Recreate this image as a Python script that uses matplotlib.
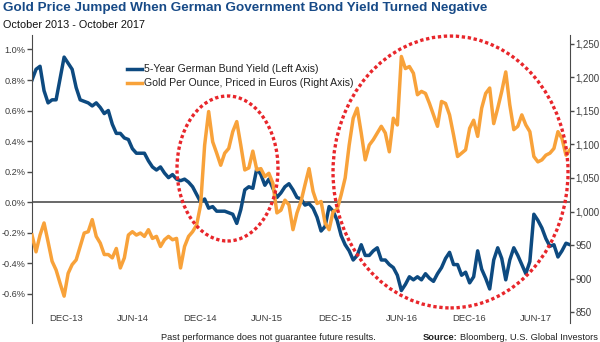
import numpy as np
import pandas as pd
import matplotlib
matplotlib.use("Agg")
import matplotlib.pyplot as plt
from matplotlib.patches import Ellipse
from matplotlib.ticker import FuncFormatter

plt.rcParams['font.family'] = ['Liberation Sans', 'DejaVu Sans']

# 5-year German Bund yield, % (left axis)
bund_yield = [
    0.80, 0.87, 0.89, 0.73, 0.65, 0.67, 0.67, 0.81, 0.95, 0.91, 0.87, 0.75, 0.67, 0.66,
    0.65, 0.63, 0.65, 0.62, 0.58, 0.60, 0.51, 0.45, 0.45, 0.42, 0.41, 0.35, 0.32,
    0.32, 0.32, 0.27, 0.23, 0.21, 0.23, 0.19, 0.16, 0.18, 0.15, 0.14, 0.15, 0.13, 0.10,
    0.05, 0.00, 0.02, -0.04, -0.03, -0.06, -0.06, -0.06, -0.07, -0.08, -0.14, -0.05, 0.08,
    0.10, 0.09, 0.22, 0.18, 0.11, 0.15, 0.09, 0.03, 0.06, 0.10, 0.12, 0.08, 0.03, 0.02,
    -0.02, -0.01, -0.04, -0.10, -0.19, -0.16, -0.03, -0.06, -0.12, -0.22, -0.28, -0.32, -0.38,
    -0.35, -0.28, -0.35, -0.35, -0.32, -0.30, -0.38, -0.38, -0.41, -0.43, -0.48, -0.58, -0.54,
    -0.49, -0.51, -0.49, -0.51, -0.47, -0.50, -0.52, -0.47, -0.43, -0.37, -0.33, -0.41, -0.41, -0.48,
    -0.46, -0.53, -0.49, -0.32, -0.44, -0.50, -0.57, -0.38, -0.30, -0.37, -0.51, -0.38, -0.30,
    -0.35, -0.41, -0.47, -0.39, -0.08, -0.12, -0.17, -0.24, -0.29, -0.28, -0.36, -0.32, -0.27, -0.28,
]

# gold per ounce in euros (right axis)
gold_eur = [
    965, 940, 965, 983, 955, 926, 913, 893, 874, 908, 921, 928, 948, 968,
    970, 988, 963, 953, 936, 936, 931, 945, 916, 931, 965, 970, 965,
    968, 963, 973, 960, 963, 948, 958, 963, 958, 960, 916, 948, 963, 970,
    980, 1010, 1099, 1149, 1104, 1087, 1069, 1087, 1094, 1119, 1134, 1099, 1062,
    1065, 1090, 1062, 1064, 1052, 1057, 1042, 998, 1002, 1017, 1010, 973, 998, 1015,
    1040, 1064, 1030, 1012, 1015, 983, 973, 1000, 1003, 1025, 1050, 1099, 1139,
    1154, 1117, 1077, 1099, 1107, 1117, 1127, 1117, 1089, 1139, 1129, 1231, 1213, 1216,
    1206, 1174, 1179, 1176, 1161, 1144, 1127, 1164, 1161, 1144, 1114, 1082, 1087,
    1092, 1124, 1136, 1112, 1154, 1176, 1184, 1131, 1154, 1179, 1208, 1159, 1122, 1127,
    1144, 1129, 1119, 1082, 1074, 1077, 1084, 1087, 1094, 1119, 1109, 1084, 1092,
]

dates = pd.date_range("2013-08-30", "2017-09-01", periods=len(bund_yield))
tick_dates = pd.date_range("2013-12-01", "2017-06-01", freq="6MS")
tick_labels = [d.strftime("%b-%y").upper() for d in tick_dates]

yield_ticks = [-0.6, -0.4, -0.2, 0.0, 0.2, 0.4, 0.6, 0.8, 1.0]
gold_ticks = [850, 900, 950, 1000, 1050, 1100, 1150, 1200, 1250]

BLUE = "#0d4a80"
ORANGE = "#f8a23a"
RED = "#e8262b"
TITLE_BLUE = "#174a87"
GREY = "#3c3c3c"

fig = plt.figure(figsize=(6, 3.42), dpi=100)
ax = fig.add_axes([32 / 600, 19 / 342, 538 / 600, 288 / 342])
ax2 = ax.twinx()

ax.axhline(0, color="#404040", lw=1.1, zorder=1)
l1, = ax.plot(dates, bund_yield, color=BLUE, lw=2.5, zorder=2)
l2, = ax2.plot(dates, gold_eur, color=ORANGE, lw=2.5, zorder=2)

ax.set_xlim(dates[0], dates[-1])
ax.set_ylim(-0.793, 1.095)
ax2.set_ylim(834, 1263)

ax.set_xticks(tick_dates)
ax.set_xticklabels(tick_labels)
ax.set_yticks(yield_ticks)
ax.yaxis.set_major_formatter(FuncFormatter(lambda v, p: f"{0.0 if abs(v) < 1e-9 else v:.1f}%"))
ax2.set_yticks(gold_ticks)
ax2.yaxis.set_major_formatter(FuncFormatter(lambda v, p: f"{int(round(v)):,}"))

for s in ["top", "bottom", "right"]:
    ax.spines[s].set_visible(False)
for s in ["top", "bottom", "left"]:
    ax2.spines[s].set_visible(False)
ax.spines["left"].set_color("#4a4a4a")
ax2.spines["right"].set_color("#4a4a4a")

ax.tick_params(axis="y", length=3.5, width=1, color="#4a4a4a", pad=1.0, labelsize=6.6, labelcolor=GREY)
ax2.tick_params(axis="y", length=3, width=1, color="#4a4a4a", pad=0.8, labelsize=7, labelcolor=GREY)
ax.tick_params(axis="x", length=0, pad=-6.5, labelsize=6.8, labelcolor=GREY)

# highlight rings around the two negative-yield periods
for cx, cy, w, h in [(0.3634, 0.5365, 0.1877, 0.5035), (0.7779, 0.5243, 0.4368, 0.944)]:
    ax2.add_patch(Ellipse((cx, cy), w, h, transform=ax2.transAxes, fill=False,
                          ec=RED, lw=2.4, ls=(0, (1, 0.8)), zorder=5, clip_on=False))

leg = ax2.legend([l1, l2], ["5-Year German Bund Yield (Left Axis)",
                            "Gold Per Ounce, Priced in Euros (Right Axis)"],
                 loc="upper left", bbox_to_anchor=(0.1766, 0.898), frameon=False,
                 fontsize=7.6, handlelength=1.4, handletextpad=0.25, labelspacing=0.38,
                 borderpad=0, borderaxespad=0)
for t in leg.get_texts():
    t.set_color("#222222")

fig.text(3 / 600, 1 - 8.5 / 342, "Gold Price Jumped When German Government Bond Yield Turned Negative",
         fontsize=9.7, fontweight="bold", color=TITLE_BLUE, va="center", ha="left")
fig.text(3 / 600, 1 - 25 / 342, "October 2013 - October 2017",
         fontsize=7.8, color="#111111", va="center", ha="left")

fig.text(268 / 600, 1 - 337.5 / 342, "Past performance does not guarantee future results.",
         fontsize=6.7, color="#222222", va="center", ha="center")
src = fig.text(598 / 600, 1 - 337.5 / 342, "Bloomberg, U.S. Global Investors",
               fontsize=6.7, color="#222222", va="center", ha="right")
renderer = fig.canvas.get_renderer()
bb = src.get_window_extent(renderer)
fig.text((bb.x0 - 3) / 600, 1 - 337.5 / 342, "Source:", fontsize=6.7, fontweight="bold",
         color="#222222", va="center", ha="right")

fig.savefig("out.png", dpi=100)
